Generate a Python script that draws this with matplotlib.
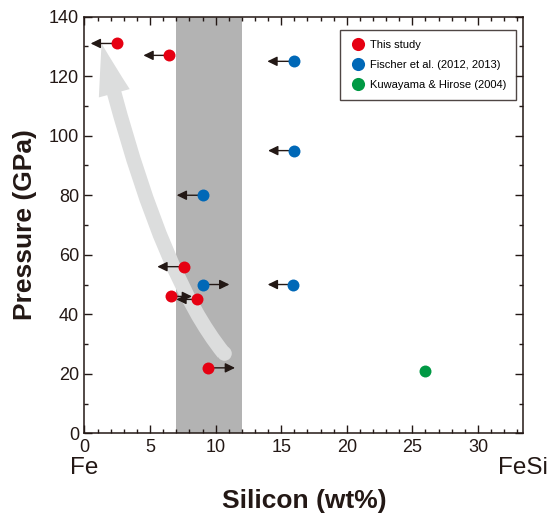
import matplotlib
matplotlib.use("Agg")
import matplotlib.pyplot as plt
from matplotlib.patches import FancyArrowPatch
from matplotlib.path import Path
from matplotlib.ticker import MultipleLocator

plt.rcParams['font.family'] = ['Liberation Sans', 'DejaVu Sans']

# ---- data ----
# This study (red): Si (wt%), pressure (GPa), arrow tip x (limit direction)
red_si = [2.5, 6.47, 7.59, 6.58, 8.56, 9.4]
red_p = [131, 127, 56, 46, 45, 22]
red_tip = [0.47, 4.49, 5.55, 8.2, 7.0, 11.48]

# Fischer et al. (blue)
blue_si = [16.0, 16.0, 9.0, 9.0, 15.93]
blue_p = [125, 95, 80, 50, 50]
blue_tip = [13.94, 14.0, 7.03, 11.05, 13.97]

# Kuwayama & Hirose (green)
green_si = [26.0]
green_p = [21.0]

# shaded band (Si range)
band_lo, band_hi = 7.0, 12.0

# curved trend arrow: start, control, end (data coords)
trend_start = (10.6, 27.0)
trend_ctrl = (5.5, 55.0)
trend_end = (1.3, 131.0)

xmax = 33.46
ymax = 140

labels = ['This study', 'Fischer et al. (2012, 2013)', 'Kuwayama & Hirose (2004)']
c_red, c_blue, c_green = '#e60012', '#0068b7', '#009944'

fig = plt.figure(figsize=(5.53, 5.15), dpi=100)
ax = fig.add_axes([0.1528, 0.1586, 0.7935, 0.809])

ax.axvspan(band_lo, band_hi, color='#b3b3b3', lw=0, zorder=0)

# trend arrow
path = Path([trend_start, trend_ctrl, trend_end], [Path.MOVETO, Path.CURVE3, Path.CURVE3])
arr = FancyArrowPatch(path=path, arrowstyle='simple,head_length=37,head_width=23,tail_width=10.5',
                      mutation_scale=1, color='#dcdddd', lw=0, zorder=1)
ax.add_patch(arr)
ax.plot([trend_start[0]], [trend_start[1]], 'o', ms=10.5, color='#dcdddd', mew=0, zorder=1)

arrow_kw = dict(arrowstyle='-|>,head_length=0.45,head_width=0.22', mutation_scale=13,
                lw=1.0, color='#231815', shrinkA=0, shrinkB=0)
for xs, ps, ts in [(red_si, red_p, red_tip), (blue_si, blue_p, blue_tip)]:
    for x, p, t in zip(xs, ps, ts):
        ax.annotate('', xy=(t, p), xytext=(x, p), arrowprops=arrow_kw, zorder=2)

ms = 8.6
ax.plot(red_si, red_p, 'o', color=c_red, ms=ms, mew=0, zorder=3, label=labels[0])
ax.plot(blue_si, blue_p, 'o', color=c_blue, ms=ms, mew=0, zorder=3, label=labels[1])
ax.plot(green_si, green_p, 'o', color=c_green, ms=ms, mew=0, zorder=3, label=labels[2])

ax.set_xlim(0, xmax)
ax.set_ylim(0, ymax)
ax.xaxis.set_major_locator(MultipleLocator(5))
ax.xaxis.set_minor_locator(MultipleLocator(1))
ax.yaxis.set_major_locator(MultipleLocator(20))
ax.yaxis.set_minor_locator(MultipleLocator(10))
ax.tick_params(which='both', direction='in', top=True, right=True, width=1.0, colors='#231815',
               labelsize=13, pad=4)
ax.tick_params(which='major', length=5.5)
ax.tick_params(which='minor', length=2.9)
for s in ax.spines.values():
    s.set_linewidth(1.1)
    s.set_color('#231815')

ax.set_xlabel('Silicon (wt%)', fontsize=19, fontweight='bold', color='#231815')
ax.set_ylabel('Pressure (GPa)', fontsize=19, fontweight='bold', color='#231815')
ax.xaxis.set_label_coords(0.5, -0.133)
ax.yaxis.set_label_coords(-0.108, 0.5)

ax.text(0, -0.083, 'Fe', transform=ax.get_xaxis_transform(), ha='center', va='center',
        fontsize=17.5, color='#231815')
ax.text(xmax, -0.083, 'FeSi', transform=ax.get_xaxis_transform(), ha='center', va='center',
        fontsize=17.5, color='#231815')

leg = ax.legend(loc='upper left', bbox_to_anchor=(0.582, 0.968), fontsize=8, frameon=True,
                fancybox=False, edgecolor='#231815', markerscale=1.1, handlelength=1.4,
                handletextpad=0.4, labelspacing=0.9, borderpad=0.9, borderaxespad=0)
leg.get_frame().set_linewidth(1.0)

fig.savefig('out.png', dpi=100)
